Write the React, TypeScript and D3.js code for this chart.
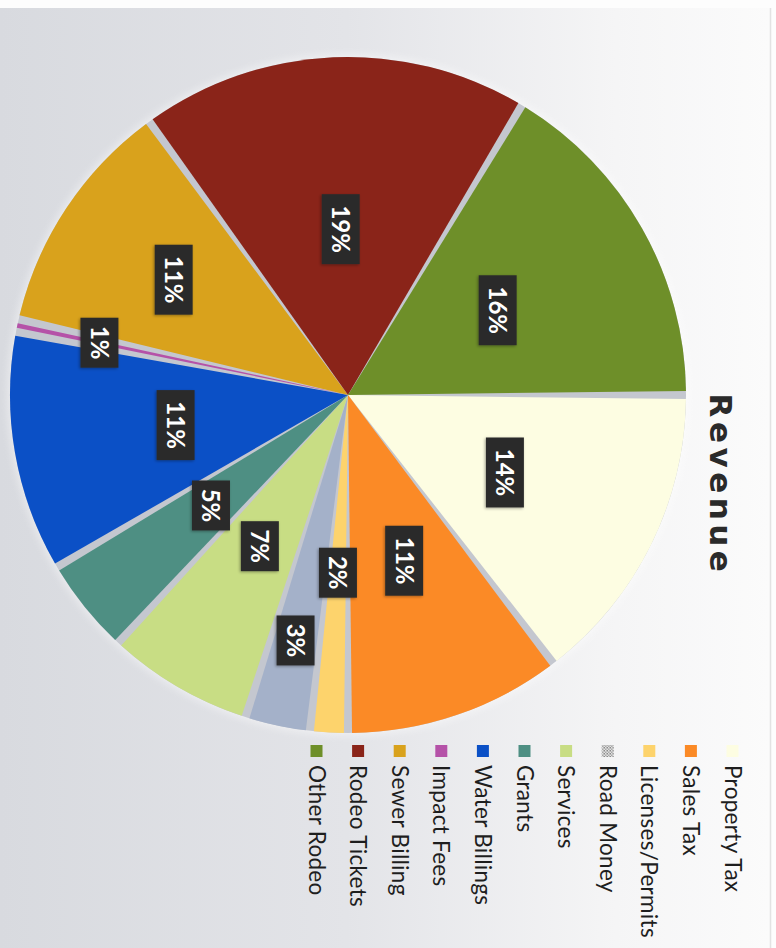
import React from "react";
import * as d3 from "d3";

const categories = [
  "Property Tax",
  "Sales Tax",
  "Licenses/Permits",
  "Road Money",
  "Services",
  "Grants",
  "Water Billings",
  "Impact Fees",
  "Sewer Billing",
  "Rodeo Tickets",
  "Other Rodeo",
];
const values = [14.6, 10.4, 1.8, 3.1, 7.0, 4.6, 11.5, 0.6, 11.4, 18.6, 16.4];
const valueLabels = ["14%", "11%", "2%", "3%", "7%", "5%", "11%", "1%", "11%", "19%", "16%"];
const colors = [
  "#fdfde2",
  "#fb8a26",
  "#fdd36c",
  "#a4b1c9",
  "#c8dd84",
  "#4e8f83",
  "#0b50c6",
  "#b552a8",
  "#d9a21c",
  "#8a2419",
  "#6e8f29",
];
// label distance from centre (layout)
const labelRadius = [175, 175, 178, 251, 175, 176, 175, 254, 209, 166, 172];

const W = 776;
const H = 948;

export default function App() {
  // chart drawn in an unrotated frame (948 wide x 776 tall) then rotated 90deg clockwise
  const cx = 395;
  const cy = 428;
  const R = 338;

  const pie = d3
    .pie<number>()
    .sort(null)
    .value((d) => d)
    .startAngle(0)
    .endAngle(2 * Math.PI);
  const arcs = pie(values);
  const arc = d3
    .arc<d3.PieArcDatum<number>>()
    .innerRadius(0)
    .outerRadius(R)
    .padAngle(0.024)
    .padRadius(R);

  const legendY0 = 43.5;
  const legendStep = 41.6;

  return (
    <svg
      width={W}
      height={H}
      style={{ position: "absolute", left: 0, top: 0 }}
      xmlns="http://www.w3.org/2000/svg"
    >
      <defs>
        <linearGradient id="bg" x1="0" y1="0" x2="1" y2="0">
          <stop offset="0" stopColor="#d8dadf" />
          <stop offset="0.45" stopColor="#e3e4e8" />
          <stop offset="0.8" stopColor="#f5f5f6" />
          <stop offset="1" stopColor="#fbfbfb" />
        </linearGradient>
        <pattern id="roadpat" width="3" height="3" patternUnits="userSpaceOnUse">
          <rect width="3" height="3" fill="#e2e2e2" />
          <rect width="1.5" height="1.5" fill="#8a8a8a" />
          <rect x="1.5" y="1.5" width="1.5" height="1.5" fill="#a8a8a8" />
        </pattern>
        <filter id="shadow" x="-20%" y="-20%" width="140%" height="140%">
          <feDropShadow dx="1" dy="1" stdDeviation="1.5" floodColor="#000" floodOpacity="0.35" />
        </filter>
        <filter id="pieshadow" x="-10%" y="-10%" width="120%" height="120%">
          <feGaussianBlur stdDeviation="4" />
        </filter>
      </defs>
      <rect x={0} y={0} width={W} height={H} fill="#fdfdfd" />
      <rect x={0} y={8} width={770} height={H - 8} fill="url(#bg)" />
      <line x1={770.5} y1={8} x2={770.5} y2={H} stroke="#e3e3e3" strokeWidth={1.5} />

      <g transform={`translate(${W},0) rotate(90)`}>
        {/* title */}
        <text
          x={485}
          y={66}
          textAnchor="middle"
          fontFamily="'DejaVu Sans', Lato, sans-serif"
          fontWeight={700}
          fontSize={31}
          letterSpacing={4.5}
          fill="#2a2a2a"
        >
          Revenue
        </text>

        {/* pie */}
        <g transform={`translate(${cx},${cy})`}>
          <circle r={R + 2} fill="#ffffff" opacity={0.5} filter="url(#pieshadow)" />
          <circle r={R} fill="#c4c7cf" />
          {arcs.map((a, i) => (
            <path key={categories[i]} d={arc(a) || ""} fill={colors[i]} />
          ))}
          {arcs.map((a, i) => {
            const ang = (a.startAngle + a.endAngle) / 2;
            const r = labelRadius[i];
            const x = r * Math.sin(ang);
            const y = -r * Math.cos(ang);
            const txt = valueLabels[i];
            const digits = txt.length - 1;
            const bw = digits === 1 ? 50 : 70;
            const bh = 38;
            return (
              <g key={"lab" + i} transform={`translate(${x},${y})`}>
                <rect
                  x={-bw / 2}
                  y={-bh / 2}
                  width={bw}
                  height={bh}
                  fill="#2c2c2c"
                  filter="url(#shadow)"
                />
                <text
                  x={0}
                  y={8.5}
                  textAnchor="middle"
                  fontFamily="Lato, 'DejaVu Sans', sans-serif"
                  fontWeight={700}
                  fontSize={24}
                  fill="#ffffff"
                >
                  {txt}
                </text>
              </g>
            );
          })}
        </g>

        {/* legend */}
        {categories.map((c, i) => {
          const yc = legendY0 + i * legendStep;
          return (
            <g key={"leg" + c}>
              <rect
                x={745}
                y={yc - 6}
                width={12}
                height={12}
                fill={i === 3 ? "url(#roadpat)" : colors[i]}
              />
              <text
                x={765}
                y={yc + 8}
                fontFamily="Lato, 'Open Sans', sans-serif"
                fontSize={22.5}
                letterSpacing={0.3}
                fill="#1e1e1e"
              >
                {c}
              </text>
            </g>
          );
        })}
      </g>
    </svg>
  );
}
